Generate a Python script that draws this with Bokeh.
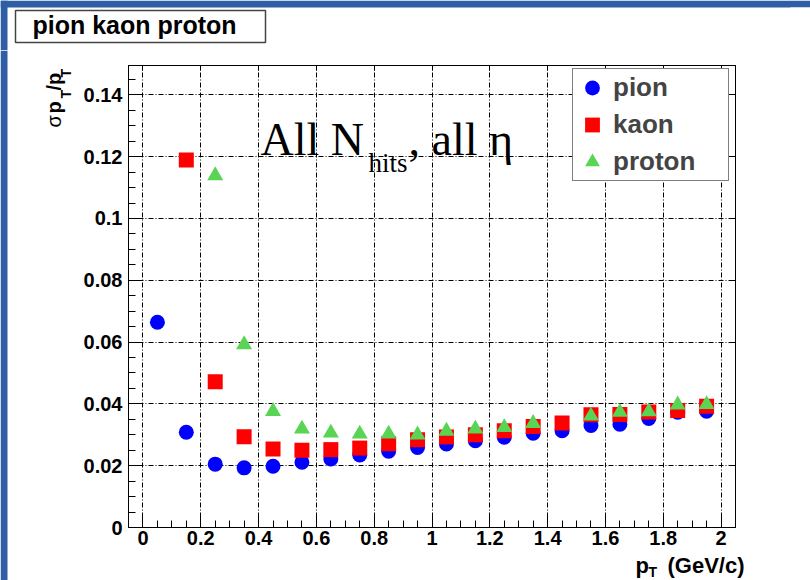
import math
from bokeh.plotting import figure
from bokeh.models import (Range1d, FixedTicker, LinearAxis, Label, Legend, LegendItem)
from bokeh.layouts import column, row
from bokeh.embed import file_html
from bokeh.resources import INLINE

# ---------------- data ----------------
pt_pion = [0.05, 0.15, 0.25, 0.35, 0.45, 0.55, 0.65, 0.75, 0.85, 0.95,
           1.05, 1.15, 1.25, 1.35, 1.45, 1.55, 1.65, 1.75, 1.85, 1.95]
res_pion = [0.0664, 0.0308, 0.0205, 0.0193, 0.0198, 0.0211, 0.0222, 0.0235, 0.0247, 0.0259,
            0.0270, 0.0281, 0.0292, 0.0305, 0.0313, 0.0330, 0.0334, 0.0353, 0.0373, 0.0376]

pt_kaon = [0.15, 0.25, 0.35, 0.45, 0.55, 0.65, 0.75, 0.85, 0.95,
           1.05, 1.15, 1.25, 1.35, 1.45, 1.55, 1.65, 1.75, 1.85, 1.95]
res_kaon = [0.1189, 0.0472, 0.0294, 0.0254, 0.0250, 0.0252, 0.0257, 0.0271, 0.0284,
            0.0293, 0.0300, 0.0313, 0.0327, 0.0338, 0.0365, 0.0366, 0.0374, 0.0379, 0.0392]

pt_proton = [0.25, 0.35, 0.45, 0.55, 0.65, 0.75, 0.85, 0.95,
             1.05, 1.15, 1.25, 1.35, 1.55, 1.65, 1.75, 1.85, 1.95]
res_proton = [0.1139, 0.0592, 0.0376, 0.0319, 0.0306, 0.0303, 0.0303, 0.0300,
              0.0312, 0.0319, 0.0324, 0.0337, 0.0361, 0.0373, 0.0375, 0.0397, 0.0398]

x_ticks = [0, 0.2, 0.4, 0.6, 0.8, 1.0, 1.2, 1.4, 1.6, 1.8, 2.0]
x_tick_labels = ["0", "0.2", "0.4", "0.6", "0.8", "1", "1.2", "1.4", "1.6", "1.8", "2"]
x_minor = [0.05, 0.1, 0.15, 0.25, 0.3, 0.35, 0.45, 0.5, 0.55, 0.65, 0.7, 0.75,
           0.85, 0.9, 0.95, 1.05, 1.1, 1.15, 1.25, 1.3, 1.35, 1.45, 1.5, 1.55,
           1.65, 1.7, 1.75, 1.85, 1.9, 1.95]
y_ticks = [0, 0.02, 0.04, 0.06, 0.08, 0.10, 0.12, 0.14]
y_tick_labels = ["0", "0.02", "0.04", "0.06", "0.08", "0.1", "0.12", "0.14"]
y_minor = [0.005, 0.01, 0.015, 0.025, 0.03, 0.035, 0.045, 0.05, 0.055, 0.065, 0.07,
           0.075, 0.085, 0.09, 0.095, 0.105, 0.11, 0.115, 0.125, 0.13, 0.135, 0.145]

series_names = ["pion", "kaon", "proton"]
title_text = "pion kaon proton"

# ---------------- layout (canvas pixels) ----------------
W, H = 810, 580
FL, FR, FT, FB = 128, 735, 65, 527      # plot frame in the window
TOP_H = 50                              # strip holding the title box
LEFT_W = 75                             # strip holding the y title
BOT_Y = 554                             # where the x-title strip starts
SANS = "Liberation Sans"
SERIF = "Liberation Serif"
MID = {SANS: 0.3465, SERIF: 0.3375}     # em-box middle above the baseline
BLUE_BG = "#2e5ea6"


def prep(f):
    if "frame_align" in f.properties():
        f.frame_align = False
    if f.title is not None:
        f.title.visible = False
    return f


def helper_fig(x0, x1, y0, y1):
    """A plain figure whose data coordinates are window pixels."""
    f = figure(width=x1 - x0, height=y1 - y0, output_backend="svg", toolbar_location=None,
               x_range=Range1d(x0, x1), y_range=Range1d(y1, y0),
               x_axis_location=None, y_axis_location=None,
               min_border=0, min_border_left=0, min_border_right=0,
               min_border_top=0, min_border_bottom=0)
    f.grid.visible = False
    f.outline_line_color = None
    f.background_fill_color = "white"
    f.border_fill_color = "white"
    return prep(f)


def put_text(f, t, x, base, size, font=SANS, style="bold", align="left", angle=0.0):
    """Place text whose baseline is at window pixel `base` (or x for rotated)."""
    if angle == 0.0:
        y = base - MID[font] * size
    else:
        y = base
    f.add_layout(Label(x=x, y=y, text=t, text_font=font, text_font_style=style,
                       text_font_size=f"{size}px", text_align=align,
                       text_baseline="middle", angle=angle, text_color="black"))


def rect(f, l, r, t, b, fill, line=None, lw=1):
    f.quad(left=[l], right=[r], top=[t], bottom=[b], fill_color=fill,
           line_color=line, line_width=lw)


# ---- main plot ----
p = figure(width=W - LEFT_W, height=BOT_Y - TOP_H, output_backend="svg",
           toolbar_location=None,
           x_range=Range1d(-0.05, 2.05), y_range=Range1d(0, 0.1495),
           min_border_left=FL - LEFT_W, min_border_right=W - FR,
           min_border_top=FT - TOP_H, min_border_bottom=BOT_Y - FB)
prep(p)
p.background_fill_color = "white"
p.border_fill_color = "white"
p.outline_line_color = "black"
p.outline_line_width = 1

xt = FixedTicker(ticks=x_ticks, minor_ticks=x_minor)
yt = FixedTicker(ticks=y_ticks, minor_ticks=y_minor)

xa = p.xaxis[0]
ya = p.yaxis[0]
xa.ticker = xt
ya.ticker = yt
xa.major_label_overrides = {t: s for t, s in zip(x_ticks, x_tick_labels)}
ya.major_label_overrides = {t: s for t, s in zip(y_ticks, y_tick_labels)}
for ax in (xa, ya):
    ax.major_tick_in = 14
    ax.major_tick_out = 0
    ax.minor_tick_in = 7
    ax.minor_tick_out = 0
    ax.axis_line_color = "black"
    ax.major_tick_line_color = "black"
    ax.minor_tick_line_color = "black"
    ax.major_label_text_font = SANS
    ax.major_label_text_font_style = "bold"
    ax.major_label_text_font_size = "20px"
    ax.major_label_text_color = "black"
xa.major_label_standoff = 3
ya.major_label_standoff = 6

for loc, tk in (("above", x_ticks), ("right", y_ticks)):
    ax = LinearAxis(ticker=FixedTicker(ticks=tk, minor_ticks=[]))
    ax.major_tick_in = 5
    ax.major_tick_out = 0
    ax.minor_tick_in = 0
    ax.minor_tick_out = 0
    ax.axis_line_color = "black"
    ax.major_tick_line_color = "black"
    ax.major_label_text_color = None
    ax.major_label_text_font_size = "0px"
    ax.major_label_standoff = 0
    p.add_layout(ax, loc)

p.xgrid.ticker = xt
p.ygrid.ticker = yt
for g in (p.xgrid, p.ygrid):
    g.grid_line_color = "black"
    g.grid_line_alpha = 1
    g.grid_line_width = 1
    g.grid_line_dash = "5 2 1 2"

r_pion = p.scatter(pt_pion, res_pion, marker="circle", size=15,
                   fill_color="#0000ff", line_color=None)
r_kaon = p.scatter(pt_kaon, res_kaon, marker="square", size=15,
                   fill_color="#ff0000", line_color=None)
r_proton = p.scatter(pt_proton, res_proton, marker="triangle", size=16,
                     fill_color="#59d454", line_color=None)

legend = Legend(items=[LegendItem(label=series_names[0], renderers=[r_pion]),
                       LegendItem(label=series_names[1], renderers=[r_kaon]),
                       LegendItem(label=series_names[2], renderers=[r_proton])],
                location=(572 - FL, FB - 181))
legend.border_line_color = "black"
legend.border_line_width = 1
legend.background_fill_color = "white"
legend.background_fill_alpha = 1
legend.label_text_font = SANS
legend.label_text_font_style = "bold"
legend.label_text_font_size = "26px"
legend.glyph_width = 38
legend.glyph_height = 37
legend.label_height = 37
legend.label_width = 115
legend.label_standoff = 2
legend.spacing = 0
legend.padding = 0
legend.margin = 0
p.add_layout(legend, "center")

# in-plot annotation (frame-relative screen units), baselines in window pixels
for t, x, base, s in (("All N", 260, 155, 46), ("hits", 368, 172, 27),
                      (", all η", 408, 155, 46)):
    ymid = base - MID[SERIF] * s
    p.add_layout(Label(x=x - FL, y=FB - ymid, x_units="screen", y_units="screen", text=t,
                       text_font=SERIF, text_font_style="normal", text_font_size=f"{s}px",
                       text_baseline="middle", text_color="black"))

# ---- top strip: blue border + title box ----
top = helper_fig(0, W, 0, TOP_H)
rect(top, 0, W, 0, 7, BLUE_BG)
rect(top, 0, 7, 0, TOP_H, BLUE_BG)
rect(top, 15, 265, 10, 42, "white", line="#444444", lw=1.5)
rect(top, 790, W, 7, TOP_H, "white")
put_text(top, title_text, 32, 33, 25)

# ---- left strip: blue border + y title (rotated, centred on its line) ----
left = helper_fig(0, LEFT_W, TOP_H, H)
rect(left, 0, 7, TOP_H, H, BLUE_BG)
A = math.pi / 2
put_text(left, "σ", 53, 127, 20, style="normal", angle=A)
put_text(left, "p", 53, 113, 20, angle=A)
put_text(left, "T", 65, 98, 14, angle=A)
put_text(left, "/p", 53, 90, 20, angle=A)
put_text(left, "T", 65, 77, 14, angle=A)

# ---- bottom strip: x title ----
bot = helper_fig(LEFT_W, W, BOT_Y, H)
put_text(bot, "p", 635, 573, 22)
put_text(bot, "T", 648, 576, 14)
put_text(bot, "(GeV/c)", 744, 573, 22, align="right")

layout = column(top, row(left, column(p, bot, spacing=0), spacing=0), spacing=0)

open("out.html", "w").write(file_html(layout, INLINE))
